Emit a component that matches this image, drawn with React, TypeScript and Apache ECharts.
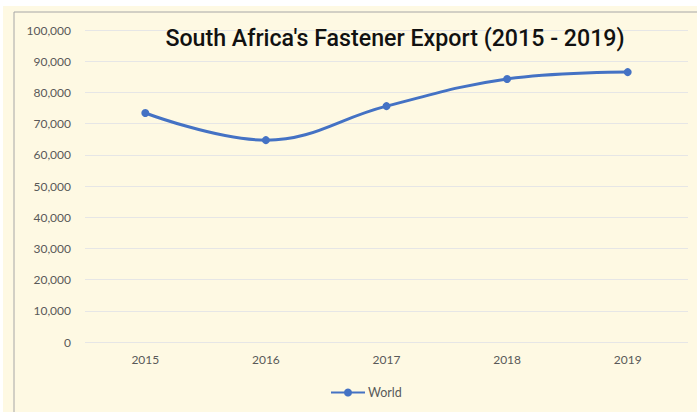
import React, { useEffect, useRef } from "react";
import * as echarts from "echarts";

const categories = ["2015", "2016", "2017", "2018", "2019"];
const worldValues = [73400, 64700, 75600, 84300, 86500];
const seriesName = "World";
const titleText = "South Africa's Fastener Export (2015 - 2019)";

export default function App() {
  const ref = useRef<HTMLDivElement>(null);
  useEffect(() => {
    document.body.style.margin = "0";
    const chart = echarts.init(ref.current!, null, { renderer: "svg" });
    chart.setOption({
      animation: false,
      backgroundColor: "#ffffff",
      graphic: [
        {
          type: "rect",
          z: -10,
          silent: true,
          shape: { x: 3, y: 6, width: 700, height: 410 },
          style: { fill: "#FEF9E3" },
        },
        {
          type: "rect",
          z: -9,
          silent: true,
          shape: { x: 14, y: 12, width: 700, height: 410 },
          style: { fill: "none", stroke: "#A6A6A6", lineWidth: 1 },
        },
      ],
      title: {
        text: titleText,
        left: 390,
        top: 21,
        textAlign: "center",
        textStyle: {
          fontFamily: "Roboto",
          fontWeight: 500,
          fontSize: 23.2,
          color: "#111111",
        },
      },
      legend: {
        top: 381,
        left: 325,
        itemWidth: 34,
        itemHeight: 10,
        itemGap: 0,
        textStyle: { fontFamily: "Lato", fontSize: 12.5, color: "#595959", padding: [0, 0, 0, -2] },
        data: [seriesName],
      },
      grid: { left: 85, right: 9, top: 30, bottom: 70, containLabel: false },
      xAxis: {
        type: "category",
        data: categories,
        boundaryGap: true,
        axisLine: { show: false },
        axisTick: { show: false },
        axisLabel: {
          fontFamily: "Lato",
          fontSize: 12,
          color: "#595959",
          margin: 11,
        },
      },
      yAxis: {
        type: "value",
        min: 0,
        max: 100000,
        interval: 10000,
        axisLine: { show: false },
        axisTick: { show: false },
        splitLine: { lineStyle: { color: "#E6E6E6", width: 1 } },
        axisLabel: {
          fontFamily: "Lato",
          fontSize: 12,
          color: "#595959",
          margin: 14,
          formatter: (v: number) => v.toLocaleString("en-US"),
        },
      },
      series: [
        {
          name: seriesName,
          type: "line",
          data: worldValues,
          smooth: 0.4,
          symbol: "circle",
          symbolSize: 8,
          lineStyle: { color: "#4472C4", width: 3 },
          itemStyle: { color: "#4472C4" },
        },
      ],
    });
    return () => chart.dispose();
  }, []);
  return <div ref={ref} style={{ width: 697, height: 412 }} />;
}
